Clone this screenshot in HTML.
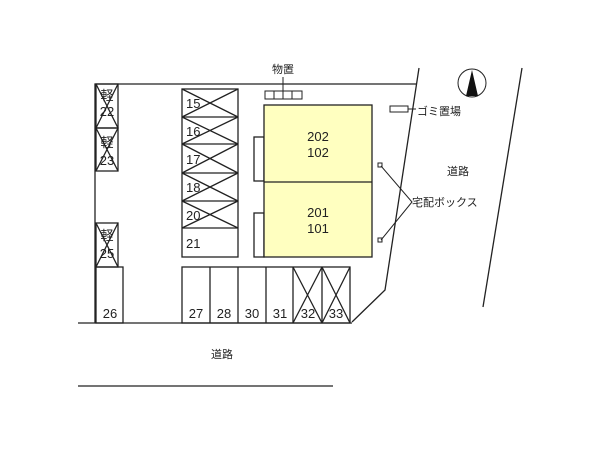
<!DOCTYPE html><html><head><meta charset="utf-8"><style>body{margin:0;background:#fff}svg text{font-family:"Liberation Sans","Noto Sans CJK JP",sans-serif;fill:#222}</style></head><body>
<svg width="600" height="450" viewBox="0 0 600 450" xmlns="http://www.w3.org/2000/svg">
<g stroke="#222" stroke-width="1.3" fill="none">
<polyline points="95,323 95,84 417,84"/>
<line x1="78" y1="323" x2="352" y2="323"/>
<polyline points="419,68 385,290 352,322"/>
<line x1="522" y1="68" x2="483" y2="307"/>
<line x1="78" y1="386" x2="333" y2="386"/>
<rect x="96" y="84" width="22" height="44"/><path d="M96,84L118,128M118,84L96,128"/>
<rect x="96" y="128" width="22" height="43"/><path d="M96,128L118,171M118,128L96,171"/>
<rect x="96" y="223" width="22" height="44"/><path d="M96,223L118,267M118,223L96,267"/>
<rect x="96" y="267" width="27" height="56"/>
<rect x="182" y="89" width="56" height="168"/>
<path d="M182,117H238M182,144H238M182,173H238M182,201H238M182,228H238"/>
<path d="M182,89L238,117M238,89L182,117M182,117L238,144M238,117L182,144M182,144L238,173M238,144L182,173M182,173L238,201M238,173L182,201M182,201L238,228M238,201L182,228"/>
<rect x="182" y="267" width="168" height="56"/>
<path d="M210,267V323M238,267V323M266,267V323M293,267V323M322,267V323"/>
<path d="M293,267L322,323M322,267L293,323M322,267L350,323M350,267L322,323"/>
<rect x="254" y="137" width="10" height="44"/><rect x="254" y="213" width="10" height="44"/>
</g>
<rect x="264" y="105" width="108" height="152" fill="#ffffc0" stroke="#222" stroke-width="1.3"/>
<line x1="264" y1="182" x2="372" y2="182" stroke="#222" stroke-width="1.3"/>
<g stroke="#222" stroke-width="1" fill="none">
<rect x="265" y="91" width="37" height="8"/><path d="M274,91V99M283,91V99M292,91V99M283,77V91"/>
<rect x="390" y="106" width="18" height="6"/><line x1="408" y1="109" x2="416" y2="109"/>
<rect x="378" y="163" width="4" height="4"/><rect x="378" y="238" width="4" height="4"/>
<path d="M381,166L412,202L381,240"/>
<circle cx="472" cy="83" r="14"/>
</g>
<polygon points="472,70 466,96 478,96" fill="#111"/>
<g font-size="13">
<text x="107" y="100" text-anchor="middle">軽</text><text x="107" y="116" text-anchor="middle">22</text>
<text x="107" y="147" text-anchor="middle">軽</text><text x="107" y="165" text-anchor="middle">23</text>
<text x="107" y="240" text-anchor="middle">軽</text><text x="107" y="258" text-anchor="middle">25</text>
<text x="110" y="318" text-anchor="middle">26</text>
<text x="186" y="108">15</text><text x="186" y="136">16</text><text x="186" y="164">17</text><text x="186" y="192">18</text><text x="186" y="220">20</text><text x="186" y="248">21</text>
<text x="196" y="318" text-anchor="middle">27</text><text x="224" y="318" text-anchor="middle">28</text><text x="252" y="318" text-anchor="middle">30</text><text x="280" y="318" text-anchor="middle">31</text><text x="308" y="318" text-anchor="middle">32</text><text x="336" y="318" text-anchor="middle">33</text>
<text x="318" y="141" text-anchor="middle">202</text><text x="318" y="157" text-anchor="middle">102</text>
<text x="318" y="217" text-anchor="middle">201</text><text x="318" y="233" text-anchor="middle">101</text>
</g>
<g font-size="11">
<text x="283" y="73" text-anchor="middle">物置</text>
<text x="417" y="115">ゴミ置場</text>
<text x="447" y="175">道路</text>
<text x="412" y="206">宅配ボックス</text>
<text x="222" y="358" text-anchor="middle">道路</text>
</g>
</svg></body></html>
